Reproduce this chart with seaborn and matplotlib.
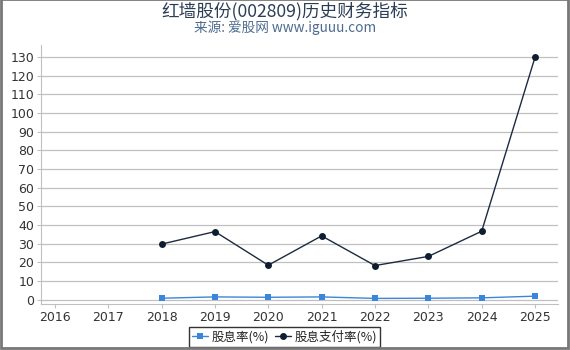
import matplotlib
matplotlib.use("Agg")
import matplotlib.pyplot as plt
import seaborn as sns
import pandas as pd

years = [2018, 2019, 2020, 2021, 2022, 2023, 2024, 2025]
dividend_yield = [0.8, 1.5, 1.3, 1.5, 0.7, 0.8, 1.0, 1.9]
payout_ratio = [29.8, 36.5, 18.5, 34.2, 18.3, 23.2, 36.7, 130.0]
tick_years = list(range(2016, 2026))
yticks = list(range(0, 131, 10))
title = "红墙股份(002809)历史财务指标"
subtitle = "来源: 爱股网 www.iguuu.com"
labels = ["股息率(%)", "股息支付率(%)"]

sns.set_theme(style="white")
plt.rcParams['font.family'] = ['Noto Sans CJK SC', 'DejaVu Sans']

df = pd.DataFrame({"year": years, "dy": dividend_yield, "pr": payout_ratio})

fig = plt.figure(figsize=(5.7, 3.5), dpi=100)
ax = fig.add_axes([41/570, 1-304/350, (558-41)/570, (304-45)/350])

for y in yticks:
    ax.axhline(y, color="#c0c0c0", lw=0.9, zorder=0)

sns.lineplot(data=df, x="year", y="dy", ax=ax, color="#3a86d8", lw=1.0,
             marker="s", markersize=5, markeredgewidth=0, label=labels[0], zorder=3)
sns.lineplot(data=df, x="year", y="pr", ax=ax, color="#1c2b40", lw=1.0,
             marker="o", markersize=5, markeredgewidth=0, markerfacecolor="#0f1d30",
             label=labels[1], zorder=4)

ax.set_xlim(2015.74, 2025.43)
ax.set_ylim(-2.3, 136.5)
ax.set_xticks(tick_years)
ax.set_xticklabels([str(t) for t in tick_years])
ax.set_yticks(yticks)
ax.set_yticklabels([str(t) for t in yticks])
ax.set_xlabel("")
ax.set_ylabel("")
ax.tick_params(axis="both", labelsize=9, labelcolor="#333333", length=3, width=0.8,
               direction="out", bottom=True, left=True, pad=2, color="#c0c0c0")
for lab in ax.get_xticklabels() + ax.get_yticklabels():
    lab.set_fontfamily("DejaVu Sans")
for s in ["top", "right"]:
    ax.spines[s].set_visible(False)
ax.spines["left"].set_color("#c0c0c0")
ax.spines["bottom"].set_color("#c0c0c0")
ax.spines["left"].set_linewidth(0.8)
ax.spines["bottom"].set_linewidth(0.8)

leg = ax.legend(loc="center", bbox_to_anchor=((284.5-41)/517, (304-337)/259),
                ncol=2, frameon=True, fontsize=9, handlelength=1.3,
                handletextpad=0.25, columnspacing=0.5, borderpad=0.25,
                fancybox=False, edgecolor="black")
leg.get_frame().set_linewidth(1.0)

fig.text(0.5, 1-11/350, title, ha="center", va="center", fontsize=12.7, color="#2b3d55")
fig.text(0.5, 1-28/350, subtitle, ha="center", va="center", fontsize=9.8, color="#4d6b8f")

# outer frame
fig.patches.append(plt.Rectangle((1/570, 2/350), 567/570, 349/350, transform=fig.transFigure,
                                 fill=False, edgecolor="#777777", lw=2))

fig.savefig("out.png", dpi=100)
